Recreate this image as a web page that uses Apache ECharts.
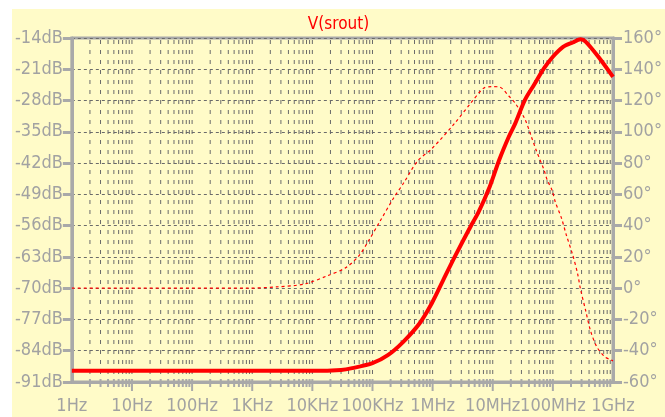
<!DOCTYPE html>
<html>
<head>
<meta charset="utf-8">
<script src="https://cdn.jsdelivr.net/npm/echarts@6/dist/echarts.min.js"></script>
<style>
  html, body { margin: 0; padding: 0; background: #ffffff; }
  #chart { position: absolute; left: 12px; top: 9px; width: 653px; height: 408px; background: #fffbc8; }
</style>
</head>
<body>
<div id="chart"></div>
<script>
  const freqLabels = ['1Hz', '10Hz', '100Hz', '1KHz', '10KHz', '100KHz', '1MHz', '10MHz', '100MHz', '1GHz'];

  // magnitude, [Hz, dB]
  const magData = [
    [1, -88.5], [1e4, -88.5], [3e4, -88.3], [4.6e4, -87.9], [1e5, -86.8], [1.8e5, -85.0],
    [3.25e5, -82.0], [6.05e5, -77.9], [9.75e5, -73.3], [1.5e6, -68.2], [2.33e6, -63.0],
    [4.28e6, -56.2], [5.8e6, -53.0], [8.9e6, -47.3], [1.28e7, -41.3], [1.85e7, -36.1],
    [2.37e7, -33.1], [3.42e7, -27.9], [4.9e7, -24.4], [7.1e7, -20.8], [1e8, -18.2],
    [1.48e8, -16.0], [2.14e8, -15.0], [2.9e8, -14.3], [3.5e8, -14.8], [5.7e8, -18.2], [1e9, -22.7]
  ];

  // phase, [Hz, degrees]
  const phaseData = [
    [1, 0], [800, 0], [2500, 0.8], [7430, 2.7], [17460, 7.8], [36300, 13.2], [59400, 20.7],
    [85700, 30.2], [129700, 42.0], [224900, 57.7], [328000, 67.1], [562000, 81.3],
    [986000, 89.5], [2.33e6, 105.5], [4.28e6, 118.2], [7.0e6, 127.8], [9.48e6, 128.9],
    [1.285e7, 128.7], [1.85e7, 122.9], [2.37e7, 118.2], [3.42e7, 108.2], [4.38e7, 96.9],
    [5.26e7, 88.4], [7.13e7, 75.6], [8.04e7, 69.2], [9.66e7, 62.8], [1.094e8, 55.3],
    [1.393e8, 44.7], [1.675e8, 34.0], [2.14e8, 21.2], [2.57e8, 9.5], [2.9e8, -1.2],
    [3.49e8, -13.9], [4.19e8, -26.7], [5.36e8, -37.4], [7.26e8, -43.8], [9.29e8, -45.9],
    [1e9, -46.5]
  ];

  const dbMin = -91, dbMax = -14, dbStep = 7;
  const degMin = -60, degMax = 160, degStep = 20;

  const FONT = '"Liberation Sans Narrow", "DejaVu Sans Condensed", sans-serif';
  const axisGray = '#a9a9a9';
  const labelGray = '#a2a2a2';
  const gridGray = '#6a6a6a';

  // vertical log grid positions: 1..9 in every decade
  const logGrid = [];
  for (let d = 0; d < 9; d++) {
    for (let k = 1; k <= 9; k++) {
      if (d === 0 && k === 1) continue;
      logGrid.push([d + Math.log10(k), k === 1 ? 1 : 0]);
    }
  }

  const toLog = (arr) => arr.map((p) => [Math.log10(p[0]), p[1]]);

  const chart = echarts.init(document.getElementById('chart'));
  chart.setOption({
    animation: false,
    title: {
      text: 'V(srout)',
      left: 'center',
      top: 2,
      textStyle: { color: '#ff0000', fontFamily: FONT, fontSize: 17, fontWeight: 'normal' }
    },
    grid: {
      left: 45, right: 43, top: 29, bottom: 35,
      show: true, borderColor: axisGray, borderWidth: 3, backgroundColor: 'transparent'
    },
    xAxis: {
      type: 'value', min: 0, max: 9, interval: 1,
      axisLine: { show: true, onZero: false, lineStyle: { color: axisGray, width: 3 } },
      axisTick: { show: false },
      splitLine: { show: false },
      axisLabel: {
        color: labelGray, fontFamily: FONT, fontSize: 18, margin: 15,
        formatter: (v) => freqLabels[Math.round(v)]
      }
    },
    yAxis: [
      {
        type: 'value', min: dbMin, max: dbMax, interval: dbStep,
        axisLine: { show: true, onZero: false, lineStyle: { color: axisGray, width: 3 } },
        axisTick: { show: true, length: 9, lineStyle: { color: axisGray, width: 3 } },
        splitLine: { show: true, lineStyle: { color: gridGray, width: 1, type: [3, 3] } },
        axisLabel: { color: labelGray, fontFamily: FONT, fontSize: 18, margin: 9, formatter: (v) => v + 'dB' }
      },
      {
        type: 'value', min: degMin, max: degMax, interval: degStep, position: 'right',
        axisLine: { show: true, onZero: false, lineStyle: { color: axisGray, width: 3 } },
        axisTick: { show: true, length: 9, lineStyle: { color: axisGray, width: 3 } },
        splitLine: { show: false },
        axisLabel: { color: labelGray, fontFamily: FONT, fontSize: 18, margin: 10, formatter: (v) => v + '°' }
      }
    ],
    series: [
      {
        name: 'grid',
        type: 'custom',
        z: 1,
        silent: true,
        clip: false,
        data: logGrid,
        renderItem: function (params, api) {
          const x = api.value(0);
          const major = api.value(1) === 1;
          const top = api.coord([x, dbMax]);
          const bot = api.coord([x, dbMin]);
          return {
            type: 'group',
            children: [
              {
                type: 'line',
                shape: { x1: top[0], y1: top[1] + 2, x2: bot[0], y2: bot[1] - 2 },
                style: { stroke: gridGray, lineWidth: 1, lineDash: [4, 6] }
              },
              {
                type: 'line',
                shape: { x1: bot[0], y1: bot[1] - 3, x2: bot[0], y2: bot[1] + (major ? 9 : 5) },
                style: { stroke: axisGray, lineWidth: 2 }
              }
            ]
          };
        }
      },
      {
        name: 'phase',
        type: 'line',
        yAxisIndex: 1,
        data: toLog(phaseData),
        showSymbol: false,
        smooth: 0.3,
        z: 3,
        lineStyle: { color: '#ff0000', width: 1.2, type: [3, 3] }
      },
      {
        name: 'mag',
        type: 'line',
        yAxisIndex: 0,
        data: toLog(magData),
        showSymbol: false,
        smooth: 0.3,
        z: 4,
        lineStyle: { color: '#ff0000', width: 4 }
      }
    ]
  });
</script>
</body>
</html>
